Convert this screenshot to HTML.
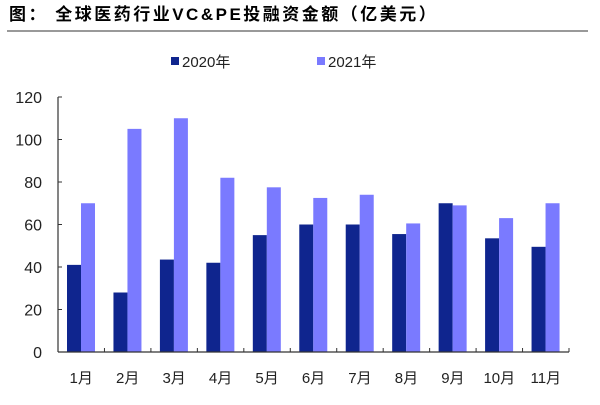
<!DOCTYPE html>
<html><head><meta charset="utf-8"><style>
body{margin:0;background:#fff;width:600px;height:400px;overflow:hidden}
text{font-family:"Liberation Sans","Noto Sans CJK SC",sans-serif}
</style></head><body>
<svg id="c" width="600" height="400">
<text x="9" y="20" font-size="17" font-weight="bold" letter-spacing="2.5" fill="#000">图： 全球医药行业VC&amp;PE投融资金额（亿美元）</text>
<line x1="7" y1="31" x2="588" y2="31" stroke="#333" stroke-width="1"/>
<g>
<rect x="171" y="57" width="8" height="8" fill="#0f258e"/>
<text x="182" y="67" font-size="15" fill="#222">2020年</text>
<rect x="317" y="57" width="8" height="8" fill="#7a7aff"/>
<text x="328" y="67" font-size="15" fill="#222">2021年</text>
</g>
<g id="plot"></g>
</svg>
<script>
const categories=["1月","2月","3月","4月","5月","6月","7月","8月","9月","10月","11月"];
const s2020=[41,28,43.5,42,55,60,60,55.5,70,53.5,49.5];
const s2021=[70,105,110,82,77.5,72.5,74,60.5,69,63,70];
const yTicks=[0,20,40,60,80,100,120];
const X0=58,X1=569,Y0=352,Y1=97,YMAX=120;
const step=(X1-X0)/categories.length;
const y=v=>Y0-(v/YMAX)*(Y0-Y1);
const xc=i=>X0+i*step;
const NS="http://www.w3.org/2000/svg";
const g=document.getElementById('plot');
function mk(t,a){const e=document.createElementNS(NS,t);for(const k in a)e.setAttribute(k,a[k]);g.appendChild(e);return e;}
categories.forEach((c,i)=>{
  const b1=mk('rect',{x:xc(i)+9,y:y(s2020[i]),width:14,height:Y0-y(s2020[i]),fill:'#0f258e'});
  
  
  const b2=mk('rect',{x:xc(i)+23,y:y(s2021[i]),width:14,height:Y0-y(s2021[i]),fill:'#7a7aff'});
  
  
  const t=mk('text',{x:xc(i)+step/2,y:383,'font-size':15,'text-anchor':'middle',fill:'#222'});
  t.textContent=c;
  
  
});
for(let i=0;i<=categories.length;i++){
  const tk=mk('line',{x1:xc(i),y1:Y0,x2:xc(i),y2:Y0-4,stroke:'#333'});
  
  
}
yTicks.forEach(v=>{
  const t=mk('text',{x:42,y:y(v)+6,'font-size':16,'text-anchor':'end',fill:'#222'});
  t.textContent=v;
  
  
  const tk=mk('line',{x1:X0,y1:y(v),x2:X0+4,y2:y(v),stroke:'#333'});
  
  
});
const ya=mk('line',{x1:X0,y1:Y1,x2:X0,y2:Y0,stroke:'#333','stroke-width':1.2});


const xa=mk('line',{x1:X0,y1:Y0,x2:X1,y2:Y0,stroke:'#333','stroke-width':1.2});


</script>
</body></html>
